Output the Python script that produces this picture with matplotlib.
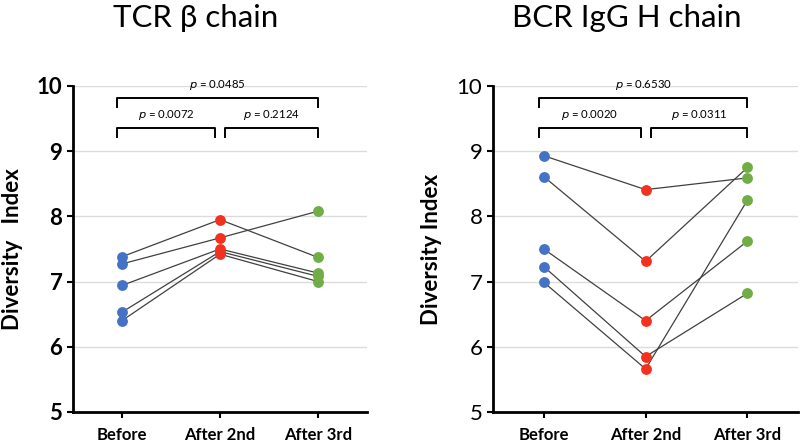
import matplotlib
matplotlib.use('Agg')
import matplotlib.pyplot as plt

plt.rcParams['font.family'] = ['Lato', 'DejaVu Sans']

#data
groups = ['Before', 'After 2nd', 'After 3rd']
tcr = [[7.38, 7.95, 7.37],
       [7.27, 7.67, 8.08],
       [6.94, 7.50, 7.13],
       [6.53, 7.46, 7.08],
       [6.40, 7.42, 7.00]]
bcr = [[8.93, 8.41, 8.59],
       [8.61, 7.31, 8.75],
       [7.50, 6.40, 7.62],
       [7.23, 5.85, 6.82],
       [6.99, 5.66, 8.25]]
tcr_p = ['0.0072', '0.2124', '0.0485']
bcr_p = ['0.0020', '0.0311', '0.6530']
dot_colors = ['#4472c4', '#f2311f', '#70ad47']
yticks = [5, 6, 7, 8, 9, 10]

fig = plt.figure(figsize=(8, 4.43), dpi=100)
ax1 = fig.add_axes([0.091, 0.070, 0.368, 0.736])
ax2 = fig.add_axes([0.616, 0.070, 0.382, 0.736])

def draw_panel(ax, data, pvals, ylab, bold_ticks):
    x = list(range(len(groups)))
    for row in data:
        ax.plot(x, row, color='#404040', lw=0.9, zorder=2)
    for row in data:
        for i, v in enumerate(row):
            ax.plot(i, v, 'o', ms=7.8, color=dot_colors[i], mec='none', zorder=3)
    ax.set_xlim(-0.5, 2.5)
    ax.set_ylim(5, 10)
    ax.set_yticks(yticks)
    ax.set_yticklabels([str(t) for t in yticks], fontsize=16,
                       fontweight='bold' if bold_ticks else 'normal')
    ax.set_xticks(x)
    ax.set_xticklabels(groups, fontsize=12, fontweight='bold')
    for t in yticks[1:]:
        ax.axhline(t, color='#dcdcdc', lw=1, zorder=1)
    for s in ['top', 'right']:
        ax.spines[s].set_visible(False)
    for s in ['left', 'bottom']:
        ax.spines[s].set_linewidth(2)
    ax.tick_params(axis='both', width=1.5, length=4, direction='out')
    ax.tick_params(axis='x', pad=7)
    ax.set_ylabel(ylab, fontsize=16, fontweight='bold')

    #brackets
    def bracket(x0, x1, y, txt):
        ax.plot([x0, x0, x1, x1], [y - 0.15, y, y, y - 0.15], color='black', lw=1.4, clip_on=False)
        ax.text((x0 + x1) / 2, y + 0.08, '$p$ = ' + txt, ha='center', va='bottom', fontsize=8.2)
    bracket(-0.05, 0.95, 9.36, pvals[0])
    bracket(1.05, 2.0, 9.36, pvals[1])
    bracket(-0.05, 2.0, 9.82, pvals[2])

draw_panel(ax1, tcr, tcr_p, 'Diversity   Index', True)
draw_panel(ax2, bcr, bcr_p, 'Diversity Index', False)
ax1.yaxis.set_label_coords(-0.168, 0.5)
ax2.yaxis.set_label_coords(-0.165, 0.5)

fig.text(0.244, 1 - 27 / 443, 'TCR β chain', ha='center', va='baseline', fontsize=22.5)
fig.text(0.784, 1 - 27 / 443, 'BCR IgG H chain', ha='center', va='baseline', fontsize=22.5)

fig.savefig('out.png', dpi=100)
